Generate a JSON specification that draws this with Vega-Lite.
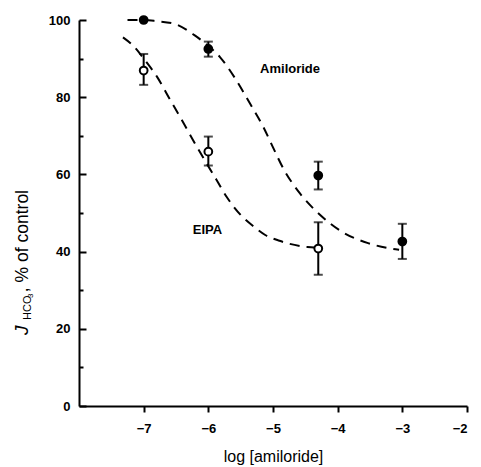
{
  "$schema": "https://vega.github.io/schema/vega-lite/v6.json",
  "width": 388,
  "height": 386,
  "autosize": "none",
  "padding": {"left": 79, "top": 20, "right": 14, "bottom": 61},
  "background": "white",
  "config": {
    "view": {"stroke": null},
    "font": "Liberation Sans",
    "axis": {"domainColor": "black", "domainWidth": 2, "tickColor": "black", "tickWidth": 2, "labelColor": "black", "titleColor": "black", "grid": false, "labelFont": "Liberation Sans", "titleFont": "Liberation Sans"}
  },
  "datasets": {
    "curves": [
      {"series": "Amiloride", "x": -7.25, "y": 100},
      {"series": "Amiloride", "x": -7.0, "y": 100},
      {"series": "Amiloride", "x": -6.8, "y": 99.7},
      {"series": "Amiloride", "x": -6.52, "y": 99},
      {"series": "Amiloride", "x": -6.21, "y": 96},
      {"series": "Amiloride", "x": -6.0, "y": 93.3},
      {"series": "Amiloride", "x": -5.82, "y": 90.4},
      {"series": "Amiloride", "x": -5.59, "y": 85},
      {"series": "Amiloride", "x": -5.36, "y": 78.5},
      {"series": "Amiloride", "x": -5.15, "y": 72.3},
      {"series": "Amiloride", "x": -5.0, "y": 67},
      {"series": "Amiloride", "x": -4.84, "y": 61.5},
      {"series": "Amiloride", "x": -4.58, "y": 55},
      {"series": "Amiloride", "x": -4.27, "y": 49.5},
      {"series": "Amiloride", "x": -3.92, "y": 45},
      {"series": "Amiloride", "x": -3.53, "y": 42.2},
      {"series": "Amiloride", "x": -3.14, "y": 40.7},
      {"series": "Amiloride", "x": -3.05, "y": 40.5},
      {"series": "EIPA", "x": -7.32, "y": 95.5},
      {"series": "EIPA", "x": -7.16, "y": 93.3},
      {"series": "EIPA", "x": -6.98, "y": 89.6},
      {"series": "EIPA", "x": -6.79, "y": 85.2},
      {"series": "EIPA", "x": -6.59, "y": 79.3},
      {"series": "EIPA", "x": -6.41, "y": 74.1},
      {"series": "EIPA", "x": -6.24, "y": 69},
      {"series": "EIPA", "x": -6.05, "y": 63.5},
      {"series": "EIPA", "x": -5.87, "y": 58.5},
      {"series": "EIPA", "x": -5.71, "y": 54},
      {"series": "EIPA", "x": -5.5, "y": 49.5},
      {"series": "EIPA", "x": -5.3, "y": 46.5},
      {"series": "EIPA", "x": -5.12, "y": 44.3},
      {"series": "EIPA", "x": -4.9, "y": 42.8},
      {"series": "EIPA", "x": -4.74, "y": 42},
      {"series": "EIPA", "x": -4.47, "y": 41.2},
      {"series": "EIPA", "x": -4.32, "y": 41}
    ],
    "points": [
      {"series": "Amiloride", "x": -7, "y": 100, "lo": null, "hi": null},
      {"series": "Amiloride", "x": -6, "y": 92.5, "lo": 90.5, "hi": 94.4},
      {"series": "Amiloride", "x": -4.3, "y": 59.7, "lo": 56.1, "hi": 63.3},
      {"series": "Amiloride", "x": -3, "y": 42.6, "lo": 38.1, "hi": 47.2},
      {"series": "EIPA", "x": -7, "y": 86.9, "lo": 83.2, "hi": 91.2},
      {"series": "EIPA", "x": -6, "y": 65.9, "lo": 62.3, "hi": 69.8},
      {"series": "EIPA", "x": -4.3, "y": 40.8, "lo": 34.0, "hi": 47.6}
    ],
    "labels": [
      {"label": "Amiloride", "x": -5.2, "y": 87.3},
      {"label": "EIPA", "x": -6.24, "y": 45.6}
    ]
  },
  "resolve": {"axis": {"y": "independent"}},
  "layer": [
    {
      "data": {"name": "curves"},
      "mark": {"type": "line", "color": "black", "strokeWidth": 2, "strokeDash": [10, 7], "interpolate": "monotone"},
      "encoding": {
        "x": {"field": "x", "type": "quantitative", "scale": {"domain": [-8, -2], "nice": false, "zero": false},
          "axis": {"values": [-7, -6, -5, -4, -3, -2], "format": "d", "title": "log [amiloride]", "titleFontSize": 16, "titleFontWeight": "normal", "titlePadding": 13, "labelFontSize": 13, "labelFontWeight": "bold", "tickSize": 6, "labelPadding": 10, "domainColor": "black", "tickColor": "black", "domainWidth": 2, "tickWidth": 2, "labelExpr": "replace(format(datum.value, 'd'), '-', '\u2212')"}},
        "y": {"field": "y", "type": "quantitative", "scale": {"domain": [0, 100], "nice": false},
          "axis": {"orient": "left", "values": [0, 20, 40, 60, 80, 100], "format": "d", "title": null, "labelFontSize": 13, "labelFontWeight": "bold", "ticks": false, "labelPadding": 9, "domainColor": "black", "domainWidth": 2}},
        "detail": {"field": "series"}
      }
    },
    {
      "data": {"name": "points"},
      "mark": {"type": "rule", "color": "black", "strokeWidth": 2},
      "encoding": {
        "x": {"field": "x", "type": "quantitative"},
        "y": {"field": "lo", "type": "quantitative", "axis": {"orient": "left", "values": [10, 30, 50, 70, 90], "labels": false, "title": null, "tickSize": 4, "offset": -4, "domain": false, "tickColor": "black", "tickWidth": 2}},
        "y2": {"field": "hi"}
      }
    },
    {
      "data": {"name": "points"},
      "mark": {"type": "tick", "orient": "horizontal", "color": "black", "size": 9, "thickness": 2},
      "encoding": {
        "x": {"field": "x", "type": "quantitative"},
        "y": {"field": "lo", "type": "quantitative", "axis": {"orient": "left", "values": [0, 20, 40, 60, 80, 100], "labels": false, "title": null, "tickSize": 7, "offset": -7, "domain": false, "tickColor": "black", "tickWidth": 2}}
      }
    },
    {
      "data": {"name": "points"},
      "mark": {"type": "tick", "orient": "horizontal", "color": "black", "size": 9, "thickness": 2},
      "encoding": {
        "x": {"field": "x", "type": "quantitative"},
        "y": {"field": "hi", "type": "quantitative", "axis": null}
      }
    },
    {
      "data": {"name": "points"},
      "mark": {"type": "point", "shape": "circle", "filled": true, "size": 60, "stroke": "black", "strokeWidth": 2, "opacity": 1},
      "encoding": {
        "x": {"field": "x", "type": "quantitative"},
        "y": {"field": "y", "type": "quantitative", "axis": null},
        "fill": {"field": "series", "type": "nominal", "scale": {"domain": ["Amiloride", "EIPA"], "range": ["black", "white"]}, "legend": null}
      }
    },
    {
      "data": {"name": "labels"},
      "mark": {"type": "text", "align": "left", "baseline": "middle", "fontSize": 13, "fontWeight": "bold", "color": "black"},
      "encoding": {
        "x": {"field": "x", "type": "quantitative"},
        "y": {"field": "y", "type": "quantitative", "axis": null},
        "text": {"field": "label"}
      }
    },
    {
      "data": {"values": [{}]},
      "mark": {"type": "text", "angle": 270, "align": "left", "baseline": "alphabetic", "fontSize": 19, "fontStyle": "italic", "fill": "black"},
      "encoding": {"x": {"datum": -8.789, "type": "quantitative"}, "y": {"datum": 18.4, "type": "quantitative", "axis": null}, "text": {"value": "J"}}
    },
    {
      "data": {"values": [{}]},
      "mark": {"type": "text", "angle": 270, "align": "left", "baseline": "alphabetic", "fontSize": 11, "fill": "black"},
      "encoding": {"x": {"datum": -8.742, "type": "quantitative"}, "y": {"datum": 22.3, "type": "quantitative", "axis": null}, "text": {"value": "HCO"}}
    },
    {
      "data": {"values": [{}]},
      "mark": {"type": "text", "angle": 270, "align": "left", "baseline": "alphabetic", "fontSize": 8, "fill": "black"},
      "encoding": {"x": {"datum": -8.711, "type": "quantitative"}, "y": {"datum": 28.0, "type": "quantitative", "axis": null}, "text": {"value": "3"}}
    },
    {
      "data": {"values": [{}]},
      "mark": {"type": "text", "angle": 270, "align": "left", "baseline": "alphabetic", "fontSize": 17.5, "fill": "black"},
      "encoding": {"x": {"datum": -8.789, "type": "quantitative"}, "y": {"datum": 29.5, "type": "quantitative", "axis": null}, "text": {"value": ", % of control"}}
    }
  ]
}
